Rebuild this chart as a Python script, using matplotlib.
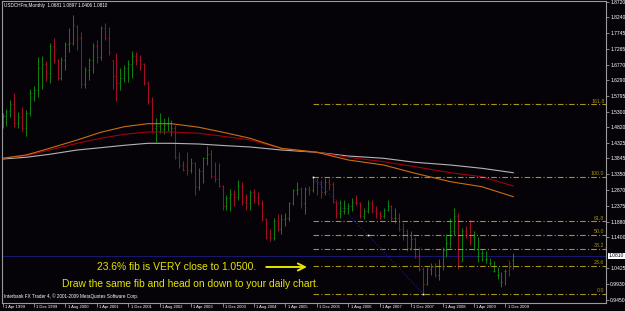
import numpy as np
import matplotlib
matplotlib.use('Agg')
import matplotlib.pyplot as plt

# USDCHF monthly bars, Apr 1999 .. Feb 2010
opens = [1.495, 1.518, 1.532, 1.555, 1.495, 1.515, 1.480, 1.525, 1.590, 1.598,
         1.665, 1.680, 1.650, 1.735, 1.690, 1.635, 1.690, 1.740, 1.745, 1.795,
         1.760, 1.615, 1.660, 1.690, 1.735, 1.700, 1.790, 1.760, 1.690, 1.640,
         1.620, 1.635, 1.665, 1.680, 1.705, 1.690, 1.680, 1.620, 1.565, 1.480,
         1.485, 1.475, 1.490, 1.470, 1.480, 1.390, 1.365, 1.360, 1.350, 1.370,
         1.295, 1.345, 1.385, 1.400, 1.330, 1.320, 1.300, 1.238, 1.260, 1.275,
         1.265, 1.300, 1.250, 1.245, 1.280, 1.265, 1.245, 1.195, 1.140, 1.138,
         1.190, 1.165, 1.195, 1.200, 1.245, 1.285, 1.290, 1.245, 1.290, 1.285,
         1.315, 1.310, 1.280, 1.310, 1.305, 1.250, 1.215, 1.220, 1.230, 1.235,
         1.250, 1.245, 1.205, 1.220, 1.245, 1.220, 1.215, 1.205, 1.225, 1.235,
         1.200, 1.200, 1.165, 1.160, 1.105, 1.135, 1.080, 1.040, 0.995, 1.040,
         1.045, 1.020, 1.050, 1.100, 1.120, 1.160, 1.205, 1.065, 1.160, 1.170,
         1.140, 1.080, 1.090, 1.070, 1.060, 1.035, 1.020, 1.000, 1.035, 1.0681,
         1.0681]
highs = [1.525, 1.540, 1.566, 1.588, 1.528, 1.545, 1.535, 1.600, 1.610, 1.700,
         1.704, 1.688, 1.744, 1.760, 1.694, 1.700, 1.747, 1.791, 1.832, 1.800,
         1.780, 1.670, 1.698, 1.744, 1.754, 1.797, 1.806, 1.794, 1.691, 1.713,
         1.666, 1.676, 1.691, 1.719, 1.716, 1.707, 1.682, 1.625, 1.576, 1.510,
         1.526, 1.510, 1.515, 1.505, 1.489, 1.405, 1.378, 1.405, 1.385, 1.372,
         1.355, 1.389, 1.423, 1.410, 1.374, 1.370, 1.302, 1.270, 1.290, 1.285,
         1.317, 1.310, 1.275, 1.285, 1.290, 1.280, 1.255, 1.200, 1.165, 1.200,
         1.210, 1.210, 1.215, 1.250, 1.290, 1.310, 1.295, 1.295, 1.300, 1.328,
         1.325, 1.318, 1.325, 1.325, 1.310, 1.255, 1.255, 1.255, 1.245, 1.260,
         1.270, 1.250, 1.230, 1.255, 1.255, 1.235, 1.220, 1.230, 1.255, 1.240,
         1.230, 1.215, 1.185, 1.165, 1.160, 1.140, 1.110, 1.045, 1.045, 1.060,
         1.060, 1.070, 1.110, 1.150, 1.200, 1.230, 1.215, 1.167, 1.174, 1.193,
         1.160, 1.140, 1.099, 1.095, 1.075, 1.065, 1.045, 1.030, 1.040, 1.065,
         1.0897]
lows = [1.480, 1.485, 1.515, 1.484, 1.478, 1.470, 1.455, 1.518, 1.565, 1.575,
        1.600, 1.626, 1.620, 1.682, 1.629, 1.630, 1.660, 1.716, 1.738, 1.722,
        1.604, 1.604, 1.629, 1.651, 1.682, 1.690, 1.754, 1.707, 1.600, 1.564,
        1.598, 1.623, 1.623, 1.635, 1.676, 1.660, 1.613, 1.555, 1.467, 1.435,
        1.465, 1.460, 1.470, 1.455, 1.383, 1.355, 1.345, 1.333, 1.340, 1.271,
        1.285, 1.308, 1.365, 1.324, 1.310, 1.296, 1.224, 1.224, 1.222, 1.236,
        1.255, 1.240, 1.225, 1.225, 1.245, 1.240, 1.190, 1.135, 1.127, 1.130,
        1.160, 1.150, 1.175, 1.190, 1.240, 1.270, 1.230, 1.210, 1.270, 1.280,
        1.270, 1.262, 1.270, 1.285, 1.245, 1.200, 1.200, 1.210, 1.210, 1.220,
        1.240, 1.200, 1.195, 1.215, 1.215, 1.200, 1.195, 1.200, 1.220, 1.190,
        1.185, 1.160, 1.130, 1.096, 1.100, 1.075, 1.035, 0.964, 0.990, 1.020,
        1.015, 1.005, 1.037, 1.078, 1.105, 1.145, 1.040, 1.064, 1.136, 1.115,
        1.099, 1.062, 1.064, 1.060, 1.050, 1.030, 1.010, 0.985, 0.990, 1.018,
        1.0406]
closes = [1.518, 1.532, 1.555, 1.495, 1.515, 1.480, 1.525, 1.590, 1.598, 1.665,
          1.680, 1.650, 1.735, 1.690, 1.635, 1.690, 1.740, 1.745, 1.800, 1.760,
          1.615, 1.660, 1.690, 1.735, 1.700, 1.790, 1.760, 1.715, 1.640, 1.620,
          1.635, 1.665, 1.680, 1.705, 1.690, 1.680, 1.620, 1.565, 1.480, 1.485,
          1.500, 1.490, 1.495, 1.480, 1.390, 1.365, 1.350, 1.350, 1.370, 1.295,
          1.345, 1.385, 1.400, 1.330, 1.320, 1.300, 1.238, 1.260, 1.275, 1.265,
          1.300, 1.250, 1.245, 1.280, 1.265, 1.245, 1.195, 1.140, 1.138, 1.190,
          1.165, 1.195, 1.200, 1.245, 1.285, 1.290, 1.245, 1.290, 1.285, 1.315,
          1.310, 1.280, 1.310, 1.305, 1.250, 1.215, 1.220, 1.230, 1.235, 1.250,
          1.245, 1.205, 1.220, 1.245, 1.220, 1.215, 1.205, 1.225, 1.235, 1.200,
          1.200, 1.165, 1.160, 1.105, 1.135, 1.080, 1.040, 0.995, 1.040, 1.045,
          1.020, 1.050, 1.100, 1.120, 1.160, 1.205, 1.065, 1.160, 1.150, 1.140,
          1.140, 1.080, 1.090, 1.070, 1.060, 1.035, 1.020, 1.000, 1.035, 1.060,
          1.0810]

# moving averages read at a few bar positions
ma_bars = [0, 6, 12, 19, 25, 31, 37, 43, 50, 57, 63, 71, 80, 88, 97, 105, 114, 122, 130]
ma_orange = [1.3851, 1.3954, 1.4162, 1.4421, 1.4661, 1.4835, 1.4929, 1.4929, 1.4817, 1.4639,
             1.4474, 1.4162, 1.4038, 1.3798, 1.3642, 1.3384, 1.3122, 1.2966, 1.2655]
ma_red = [1.3851, 1.3932, 1.4109, 1.4318, 1.4474, 1.4599, 1.4670, 1.4670, 1.4630, 1.4524,
          1.4421, 1.4162, 1.4038, 1.3882, 1.3745, 1.3589, 1.3402, 1.3278, 1.2988]
ma_gray = [1.3829, 1.3882, 1.3976, 1.4109, 1.4181, 1.4256, 1.4318, 1.4318, 1.4296, 1.4243,
           1.4203, 1.4109, 1.4038, 1.3922, 1.3851, 1.3726, 1.3642, 1.3539, 1.3402]

yticks = [1.8720, 1.8240, 1.7745, 1.7265, 1.6770, 1.6290, 1.5795, 1.5300, 1.4820, 1.4325,
          1.3845, 1.3350, 1.2870, 1.2375, 1.1880, 1.1400, 1.0425, 0.9930, 0.9450]
xlabels = ["1 Apr 1999", "1 Dec 1999", "1 Aug 2000", "1 Apr 2001", "1 Dec 2001",
           "1 Aug 2002", "1 Apr 2003", "1 Dec 2003", "1 Aug 2004", "1 Apr 2005",
           "1 Dec 2005", "1 Aug 2006", "1 Apr 2007", "1 Dec 2007", "1 Aug 2008",
           "1 Apr 2009", "1 Dec 2009"]

fib_start, fib_end = 79, 107
fib_high, fib_low = 1.3283, 0.9636
fib_ratios = [0.0, 0.236, 0.382, 0.5, 0.618, 1.0, 1.618]
fib_names = ["0.0", "23.6", "38.2", "50.0", "61.8", "100.0", "161.8"]
last_price = 1.0810

BG = '#050308'
FIB = '#a89410'
YEL = '#e6e600'
small = ['Liberation Sans', 'DejaVu Sans']

fig = plt.figure(figsize=(6.25, 3.11), dpi=100, facecolor=BG)
ax = fig.add_axes([2 / 625, 8 / 311, 604 / 625, 302 / 311])
ax.set_facecolor(BG)

px = 1 / 3.93  # one pixel in bar units
ax.set_xlim(-0.13, 153.6)
ax.set_ylim(0.9343, 1.8751)

# bars
idx = np.arange(len(opens))
for i in idx:
    col = '#0e840e' if closes[i] >= opens[i] else '#a80e2a'
    ax.vlines(i, lows[i], highs[i], color=col, lw=0.7)
    ax.hlines(opens[i], i - px, i, color=col, lw=0.7)
    ax.hlines(closes[i], i, i + px, color=col, lw=0.7)

# moving averages
ax.plot(ma_bars, ma_gray, color='#b4b4b4', lw=0.8)
ax.plot(ma_bars, ma_red, color='#a00010', lw=0.8)
ax.plot(ma_bars, ma_orange, color='#c86e10', lw=0.8)

# bid line
ax.axhline(last_price, color='#1c1c80', lw=0.6, zorder=0)

# fibonacci
for r, name in zip(fib_ratios, fib_names):
    lvl = fib_low + r * (fib_high - fib_low)
    ax.hlines(lvl, fib_start, 153.6, color=FIB, lw=0.8,
              linestyles=(0, (5, 2, 1, 2)))
    ax.text(153.2, lvl + 0.002, name, color=FIB, fontsize=3.8, ha='right',
            va='bottom', family=small)
ax.plot([fib_start, fib_end], [fib_high, fib_low], color='#1c1c80', lw=0.6,
        ls=(0, (2, 2)))
ax.plot([fib_start, (fib_start + fib_end) / 2, fib_end],
        [fib_high, (fib_high + fib_low) / 2, fib_low], ls='none',
        marker='s', ms=1.2, color='white', mec='none')

# axes styling
for s in ['top', 'left', 'right', 'bottom']:
    ax.spines[s].set_color('#9a9a9a')
    ax.spines[s].set_linewidth(0.8)
ax.yaxis.tick_right()
ax.set_yticks(yticks)
ax.set_yticklabels([f"{v:.4f}" for v in yticks])
ax.tick_params(axis='y', colors='#9a9a9a', labelcolor='white', labelsize=3.6,
               length=2, width=0.6, pad=1)
for t in ax.get_yticklabels():
    t.set_family(small)
ax.set_xticks(np.arange(len(xlabels)) * 8)
ax.set_xticklabels([])
ax.tick_params(axis='x', colors='#9a9a9a', length=3, width=0.6, direction='out')
for k, lab in enumerate(xlabels):
    ax.text(k * 8 + 0.6, -0.006, lab, transform=ax.get_xaxis_transform(),
            color='white', fontsize=3.0, ha='left', va='top', family=small)

# current price box
ax.text(1.0 + 2.5 / 604, last_price, f"{last_price:.4f}", transform=ax.get_yaxis_transform(),
        color='black', fontsize=3.6, ha='left', va='center', family=small,
        bbox=dict(boxstyle='square,pad=0.15', fc='white', ec='none'), zorder=5,
        clip_on=False)

# header / footer
ax.text(0.003, 0.995, "USDCHFm,Monthly  1.0681 1.0897 1.0406 1.0810",
        transform=ax.transAxes, color='white', fontsize=3.3, ha='left', va='top',
        family=small)
ax.text(0.003, 0.012, "Interbank FX Trader 4, \u00a9 2001-2009 MetaQuotes Software Corp.",
        transform=ax.transAxes, color='white', fontsize=3.3, ha='left', va='bottom',
        family=small)

# annotation
ax.text(95 / 604, 0.12, "23.6% fib is VERY close to 1.0500.",
        transform=ax.transAxes, color=YEL, fontsize=7.4, ha='left', va='center',
        family=['Liberation Sans', 'DejaVu Sans'])
ax.text(60 / 604, 0.063, "Draw the same fib and head on down to your daily chart.",
        transform=ax.transAxes, color=YEL, fontsize=7.4, ha='left', va='center',
        family=['Liberation Sans', 'DejaVu Sans'])
ax.annotate("", xy=(78.2, 1.0465), xytext=(66.4, 1.0465),
            arrowprops=dict(arrowstyle='->,head_length=0.5,head_width=0.25',
                            color=YEL, lw=1.4))

fig.savefig('out.png', dpi=100, facecolor=BG)
